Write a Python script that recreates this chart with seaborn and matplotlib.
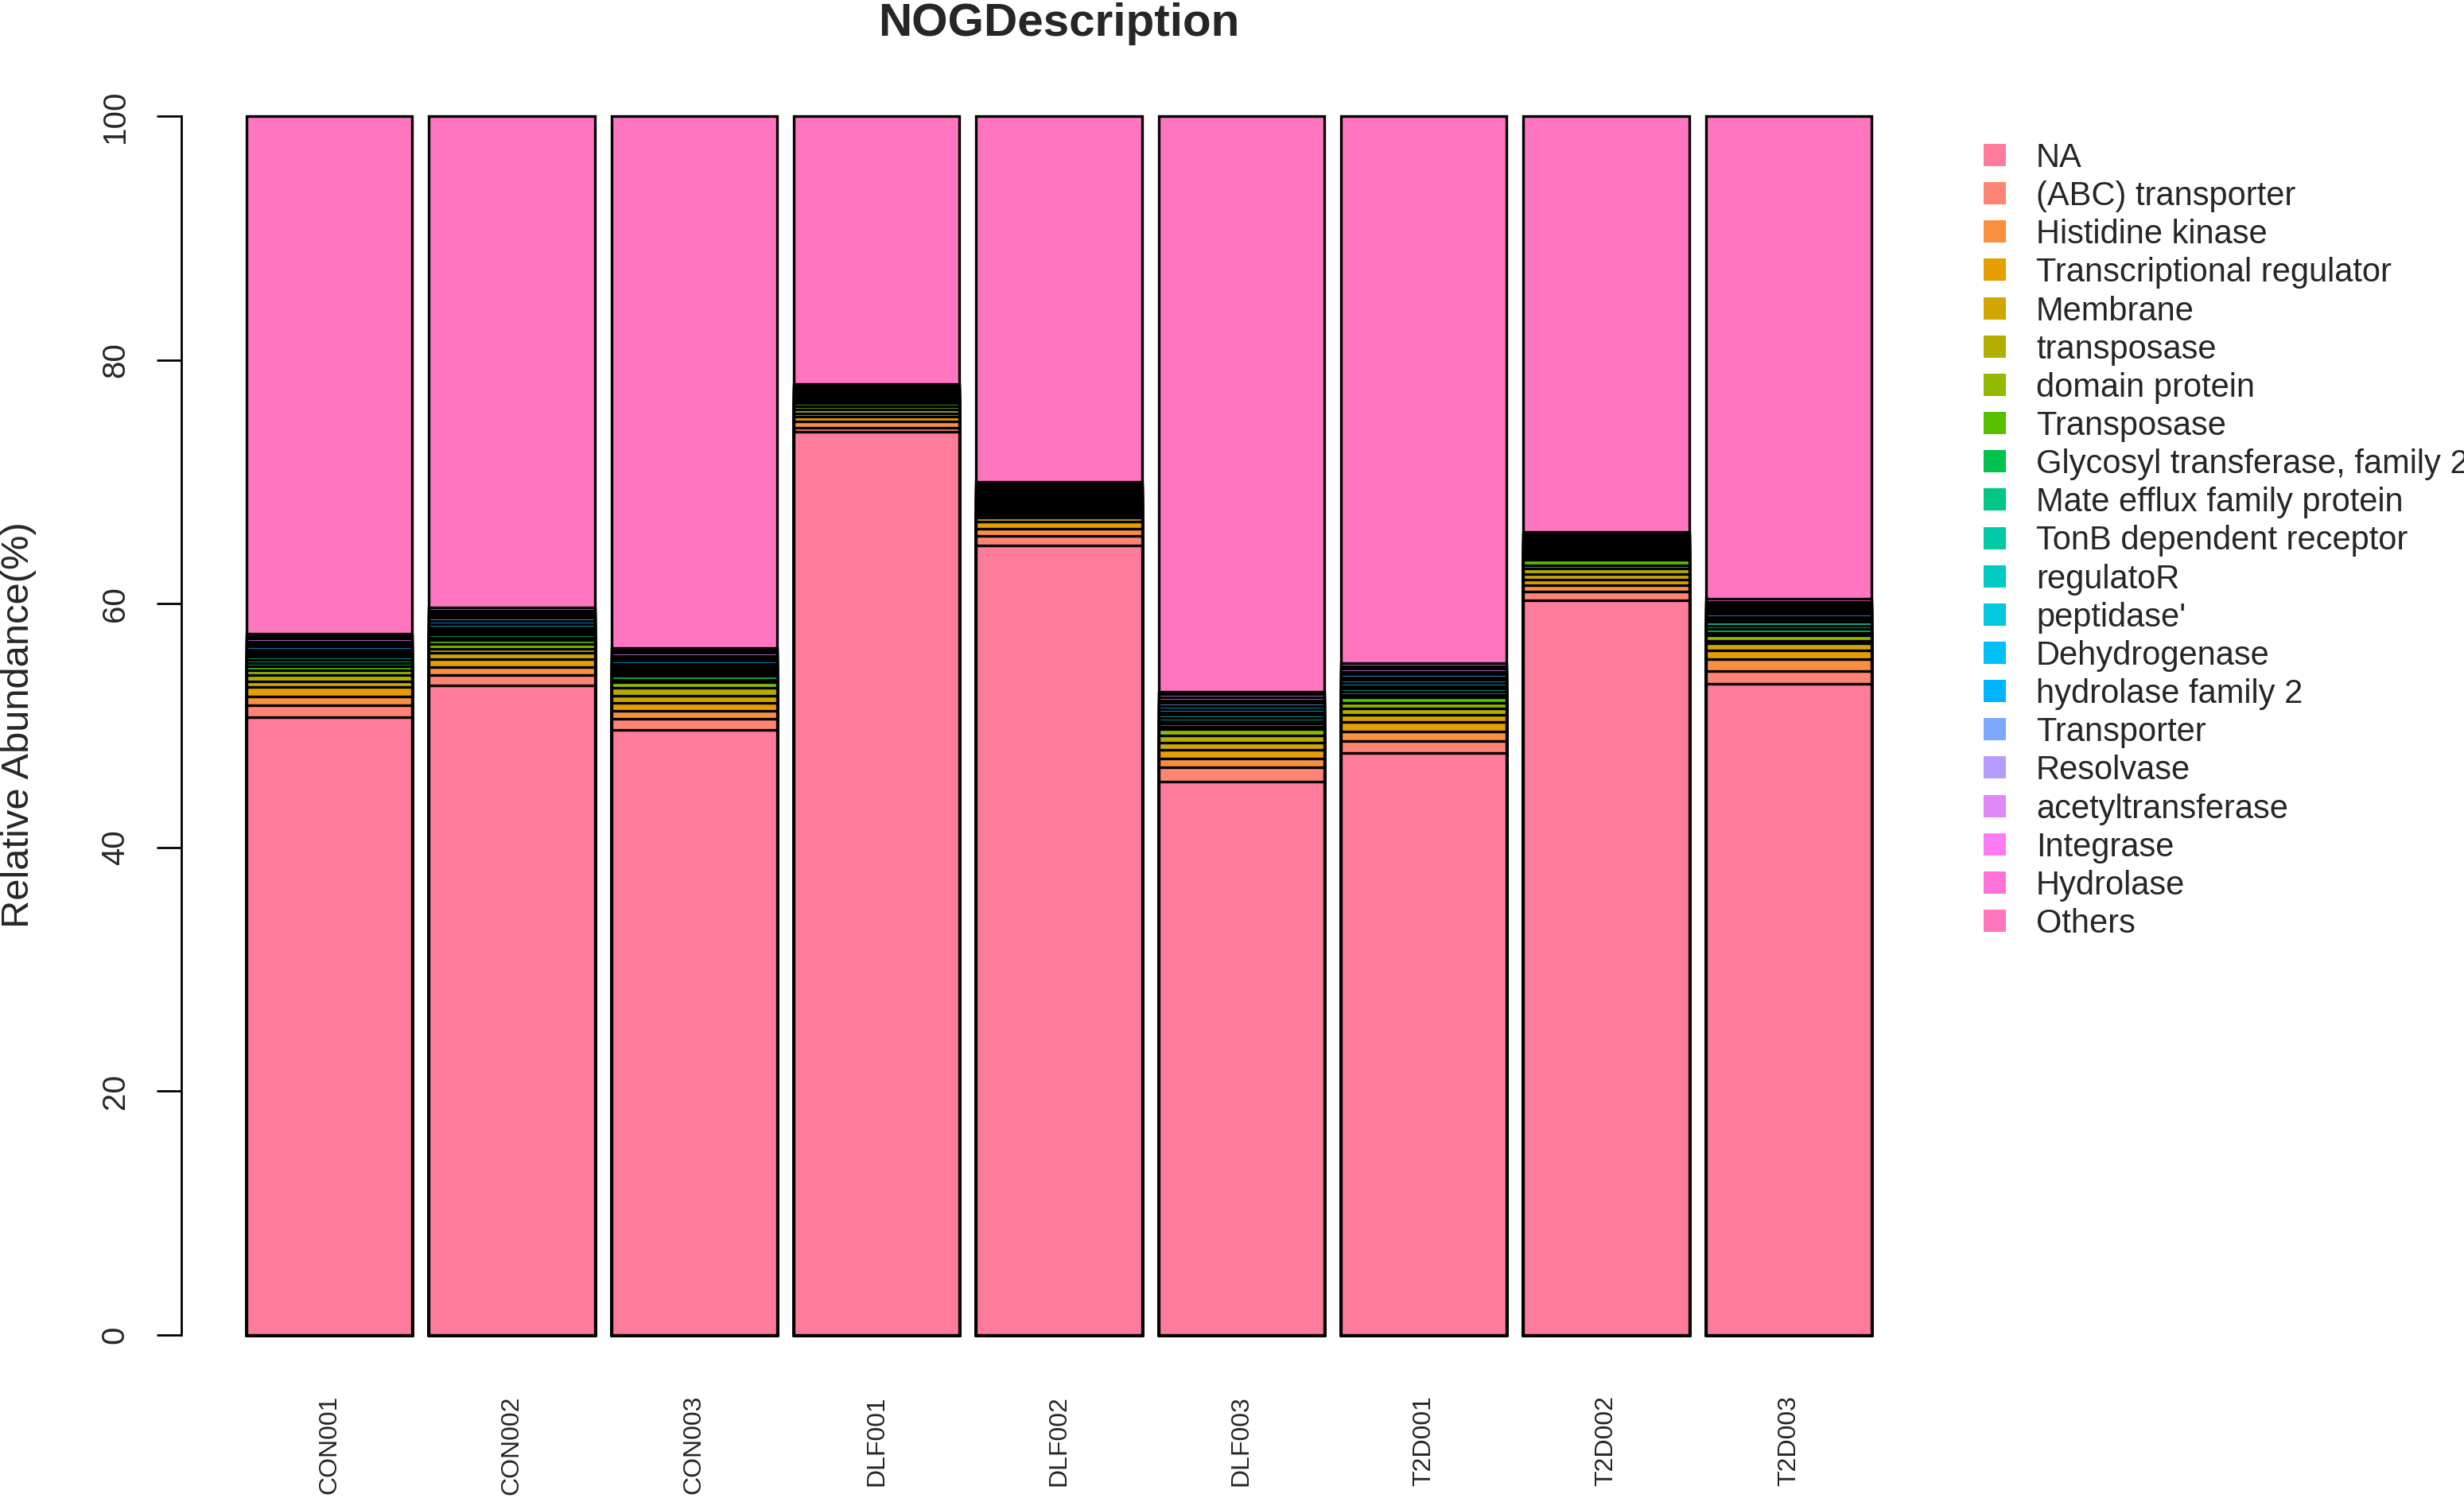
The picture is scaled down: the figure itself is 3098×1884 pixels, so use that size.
import numpy as np
import pandas as pd
import matplotlib
matplotlib.use("Agg")
import matplotlib.pyplot as plt
import seaborn as sns
from matplotlib.patches import Rectangle

sns.set_style("white")
plt.rcParams["font.family"] = ["Liberation Sans", "DejaVu Sans"]

# ---------------- data ----------------
samples = ["CON001", "CON002", "CON003", "DLF001", "DLF002", "DLF003",
           "T2D001", "T2D002", "T2D003"]

categories = ["NA", "(ABC) transporter", "Histidine kinase", "Transcriptional regulator",
              "Membrane", "transposase", "domain protein", "Transposase",
              "Glycosyl transferase, family 2", "Mate efflux family protein",
              "TonB dependent receptor", "regulatoR", "peptidase'", "Dehydrogenase",
              "hydrolase family 2", "Transporter", "Resolvase", "acetyltransferase",
              "Integrase", "Hydrolase", "Others"]

colors = ["#FF7B9C", "#FF8474", "#F98F3F", "#E69E00", "#D0A600", "#B3AF00",
          "#93B800", "#55BF00", "#00C24E", "#00C686", "#00CAA5", "#00CCC3",
          "#00C8DF", "#00C0F7", "#00B5FF", "#7CA8FF", "#B89BFF", "#DE88FA",
          "#FF7AF5", "#FF73D9", "#FF75BF"]

na_vals        = [50.66, 53.31, 49.66, 74.08, 64.78, 45.42, 47.73, 60.27, 53.42]
abc_transp     = [1.02, 0.81, 0.89, 0.39, 0.76, 1.16, 1.02, 0.74, 1.03]
histidine      = [0.70, 0.69, 0.64, 0.50, 0.60, 0.69, 0.76, 0.52, 0.98]
transcr_reg    = [0.76, 0.62, 0.65, 0.37, 0.61, 0.76, 0.80, 0.44, 0.75]
membrane       = [0.50, 0.54, 0.59, 0.28, 0.30, 0.57, 0.57, 0.46, 0.55]
transposase_l  = [0.48, 0.33, 0.65, 0.30, 0.20, 0.56, 0.54, 0.45, 0.25]
domain_protein = [0.43, 0.38, 0.48, 0.25, 0.20, 0.53, 0.44, 0.25, 0.44]
transposase_u  = [0.30, 0.35, 0.20, 0.30, 0.22, 0.20, 0.44, 0.47, 0.20]
glycosyl       = [0.28, 0.20, 0.30, 0.14, 0.20, 0.30, 0.20, 0.20, 0.30]
mate_efflux    = [0.27, 0.22, 0.20, 0.13, 0.18, 0.20, 0.30, 0.20, 0.30]
tonb           = [0.22, 0.20, 0.20, 0.12, 0.20, 0.25, 0.22, 0.20, 0.30]
regulator      = [0.21, 0.20, 0.22, 0.13, 0.20, 0.22, 0.24, 0.18, 0.20]
peptidase      = [0.22, 0.22, 0.20, 0.13, 0.20, 0.24, 0.22, 0.20, 0.22]
dehydrogenase  = [0.21, 0.25, 0.20, 0.14, 0.20, 0.25, 0.24, 0.18, 0.20]
hydrolase_f2   = [0.22, 0.24, 0.22, 0.13, 0.20, 0.24, 0.22, 0.20, 0.20]
transporter    = [0.21, 0.25, 0.24, 0.14, 0.20, 0.25, 0.24, 0.18, 0.20]
resolvase      = [0.22, 0.20, 0.20, 0.12, 0.18, 0.24, 0.22, 0.20, 0.22]
acetyltransf   = [0.21, 0.20, 0.20, 0.13, 0.20, 0.24, 0.24, 0.18, 0.20]
integrase      = [0.22, 0.22, 0.20, 0.13, 0.18, 0.24, 0.22, 0.20, 0.22]
hydrolase      = [0.21, 0.23, 0.20, 0.13, 0.20, 0.24, 0.24, 0.16, 0.20]
others         = [42.45, 40.34, 43.66, 21.96, 29.99, 47.20, 44.90, 34.12, 39.62]

series = [na_vals, abc_transp, histidine, transcr_reg, membrane, transposase_l,
          domain_protein, transposase_u, glycosyl, mate_efflux, tonb, regulator,
          peptidase, dehydrogenase, hydrolase_f2, transporter, resolvase,
          acetyltransf, integrase, hydrolase, others]

df = pd.DataFrame(np.array(series).T, index=samples, columns=categories)
cum = df.cumsum(axis=1)

# ---------------- figure ----------------
W, H = 3098, 1884
fig = plt.figure(figsize=(W / 200, H / 200), dpi=200)
ax_l, ax_r, ax_t, ax_b = 228, 2435, 85, 1740
ax = fig.add_axes([ax_l / W, 1 - ax_b / H, (ax_r - ax_l) / W, (ax_b - ax_t) / H])

for k in range(len(categories) - 1, -1, -1):
    sns.barplot(x=samples, y=cum[categories[k]].values, order=samples,
                color=colors[k], saturation=1, width=0.909,
                edgecolor="black", linewidth=1.2, ax=ax)

ax.set_xlim(-0.811, 8.811)
ax.set_ylim(-4, 104)
ax.set_xlabel("")
ax.set_ylabel("")
for s in ["top", "right", "bottom"]:
    ax.spines[s].set_visible(False)
ax.spines["left"].set_bounds(0, 100)
ax.spines["left"].set_linewidth(1.0)
ax.spines["left"].set_color("black")

ax.set_yticks([0, 20, 40, 60, 80, 100])
ax.set_yticklabels(["0", "20", "40", "60", "80", "100"])
ax.tick_params(axis="y", length=11.2, width=1.0, pad=14.8, labelsize=14.5,
               direction="out", color="black", left=True)
plt.setp(ax.get_yticklabels(), rotation=90, rotation_mode="anchor",
         ha="center", va="baseline")

ax.tick_params(axis="x", length=0, pad=5.4, labelsize=11.5)
plt.setp(ax.get_xticklabels(), rotation=90, rotation_mode="anchor",
         ha="right", va="center")

# axis title and main title
fig.text(24 / W, 1 - 912 / H, "Relative Abundance(%)", rotation=90,
         ha="center", va="center", fontsize=17.6)
fig.text((ax_l + ax_r) / 2 / W, 1 - 45 / H, "NOGDescription", ha="center",
         va="baseline", fontsize=21, fontweight="bold")

# legend
row0, drow = 195.0, 48.15
for i, (lab, col) in enumerate(zip(categories, colors)):
    yc = row0 + drow * i
    fig.add_artist(Rectangle((2494 / W, 1 - (yc + 14) / H), 28 / W, 28 / H,
                             transform=fig.transFigure, facecolor=col,
                             edgecolor="none"))
    fig.text(2560 / W, 1 - (yc + 15) / H, lab, ha="left", va="baseline",
             fontsize=15)

fig.savefig("out.png", dpi=200)
